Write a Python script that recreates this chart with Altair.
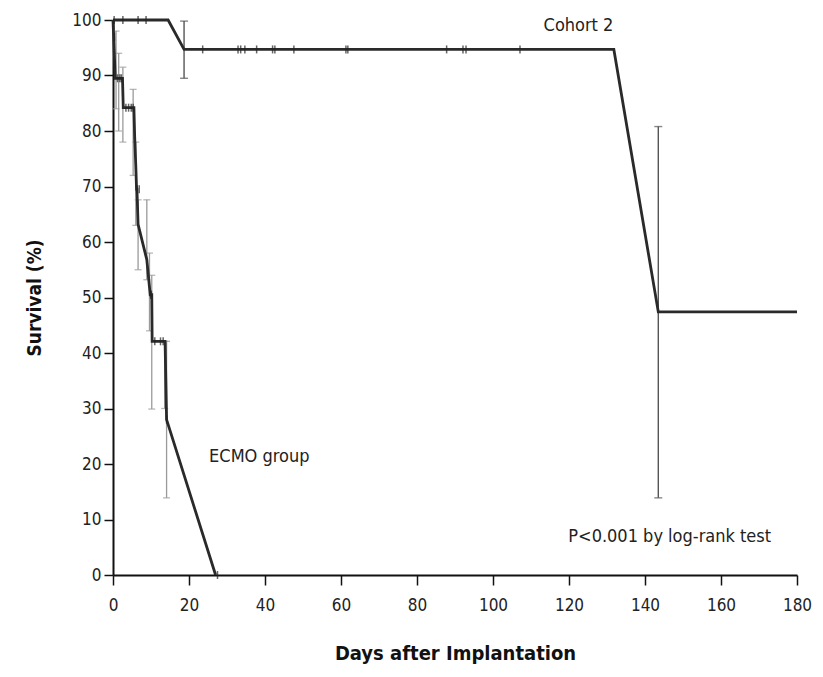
import altair as alt
import pandas as pd

# ---- data ----
cohort_days = [0, 14.5, 18.7, 131.8, 143.5, 180]
cohort_surv = [100, 100, 94.7, 94.7, 47.4, 47.4]

ecmo_days = [0, 0.3, 0.6, 2.5, 2.7, 5.5, 5.7, 6.0, 6.2, 6.3, 6.6, 8.9, 9.8, 10.2, 10.3, 13.7, 14.1, 27.0]
ecmo_surv = [100, 94.7, 89.5, 89.5, 84.2, 84.2, 79.0, 73.7, 69.5, 69.5, 63.2, 56.8, 50.5, 50.5, 42.1, 42.1, 28.0, 0]

cohort_cens_days = [0.3, 2.6, 6.6, 8.7, 23.6, 32.9, 33.6, 34.7, 37.8, 42.0, 42.6, 47.6, 61.3, 61.8, 87.8, 92.1, 92.9, 107.1]
cohort_cens_surv = [100, 100, 100, 100, 94.7, 94.7, 94.7, 94.7, 94.7, 94.7, 94.7, 94.7, 94.7, 94.7, 94.7, 94.7, 94.7, 94.7]

ecmo_cens_days = [0.4, 0.5, 1.2, 1.8, 2.2, 3.4, 4.1, 4.8, 5.3, 6.3, 6.9, 9.9, 10.1, 11.0, 12.5, 13.2, 14.1, 27.5]
ecmo_cens_surv = [97, 92, 89.5, 89.5, 89.5, 84.2, 84.2, 84.2, 84.2, 69.5, 69.5, 50.5, 50.5, 42.1, 42.1, 42.1, 28.0, 0]

cohort_err_days = [18.7, 143.5]
cohort_err_lo = [89.5, 13.9]
cohort_err_hi = [99.8, 80.8]

ecmo_err_days = [0.8, 1.5, 2.6, 5.3, 6.0, 6.6, 8.9, 9.6, 10.2, 13.6, 14.1]
ecmo_err_lo = [84, 80, 78.0, 72.0, 63.0, 55.0, 53.2, 44.0, 29.9, 30.0, 13.9]
ecmo_err_hi = [98, 94, 91.5, 87.5, 78.0, 67.6, 67.6, 58.0, 54.0, 42.1, 42.1]

labels = ["Cohort 2", "ECMO group", "P<0.001 by log-rank test"]
label_x = [122.5, 38.5, 146.5]
label_y = [99.0, 21.2, 6.8]

FONT = "DejaVu Sans Condensed, Liberation Sans, sans-serif"

lines = pd.DataFrame({
    "day": cohort_days + ecmo_days,
    "surv": cohort_surv + ecmo_surv,
    "group": ["Cohort 2"] * len(cohort_days) + ["ECMO"] * len(ecmo_days),
    "order": list(range(len(cohort_days))) + list(range(len(ecmo_days))),
})
cens = pd.DataFrame({
    "day": cohort_cens_days + ecmo_cens_days,
    "surv": cohort_cens_surv + ecmo_cens_surv,
})
err_c = pd.DataFrame({"day": cohort_err_days, "lo": cohort_err_lo, "hi": cohort_err_hi})
err_e = pd.DataFrame({"day": ecmo_err_days, "lo": ecmo_err_lo, "hi": ecmo_err_hi})
txt = pd.DataFrame({"label": labels, "x": label_x, "y": label_y})

xs = alt.Scale(domain=[0, 180], nice=False, zero=False)
ys = alt.Scale(domain=[0, 100], nice=False)

xaxis = alt.Axis(
    values=list(range(0, 181, 20)), title="Days after Implantation",
    labelFont=FONT, labelFontSize=17, labelColor="#222", labelPadding=12,
    tickSize=10, tickColor="#111", tickWidth=1.5, domainColor="#111", domainWidth=2,
    titleFont=FONT, titleFontSize=20, titleFontWeight="bold", titleColor="#111",
    titlePadding=30, grid=False, labelFlush=False,
)
yaxis = alt.Axis(
    values=list(range(0, 101, 10)), title="Survival (%)",
    labelFont=FONT, labelFontSize=17, labelColor="#222", labelPadding=3,
    tickSize=9, tickColor="#111", tickWidth=1.5, domainColor="#111", domainWidth=2,
    titleFont=FONT, titleFontSize=19, titleFontWeight="bold", titleColor="#111",
    titlePadding=27, grid=False, labelFlush=False,
)

base_x = alt.X("day:Q", scale=xs, axis=xaxis)
base_y = alt.Y("surv:Q", scale=ys, axis=yaxis)

e_rule = alt.Chart(err_e).mark_rule(color="#9a9a9a", strokeWidth=1.3).encode(
    x=alt.X("day:Q", scale=xs), y=alt.Y("lo:Q", scale=ys), y2="hi:Q")
e_cap_lo = alt.Chart(err_e).mark_tick(color="#9a9a9a", orient="horizontal", size=7, thickness=1.3).encode(
    x=alt.X("day:Q", scale=xs), y=alt.Y("lo:Q", scale=ys))
e_cap_hi = alt.Chart(err_e).mark_tick(color="#9a9a9a", orient="horizontal", size=7, thickness=1.3).encode(
    x=alt.X("day:Q", scale=xs), y=alt.Y("hi:Q", scale=ys))

c_rule = alt.Chart(err_c).mark_rule(color="#555", strokeWidth=1.4).encode(
    x=alt.X("day:Q", scale=xs), y=alt.Y("lo:Q", scale=ys), y2="hi:Q")
c_cap_lo = alt.Chart(err_c).mark_tick(color="#555", orient="horizontal", size=8, thickness=1.4).encode(
    x=alt.X("day:Q", scale=xs), y=alt.Y("lo:Q", scale=ys))
c_cap_hi = alt.Chart(err_c).mark_tick(color="#555", orient="horizontal", size=8, thickness=1.4).encode(
    x=alt.X("day:Q", scale=xs), y=alt.Y("hi:Q", scale=ys))

line = alt.Chart(lines).mark_line(color="#2a2a2a", strokeWidth=2.8).encode(
    x=base_x, y=base_y, detail="group:N", order="order:Q")

ticks = alt.Chart(cens).mark_tick(color="#222", orient="vertical", size=8, thickness=1.5).encode(
    x=alt.X("day:Q", scale=xs), y=alt.Y("surv:Q", scale=ys))

text = alt.Chart(txt).mark_text(font=FONT, fontSize=18, color="#222", align="center", baseline="middle").encode(
    x=alt.X("x:Q", scale=xs), y=alt.Y("y:Q", scale=ys), text="label:N")

chart = alt.layer(e_rule, e_cap_lo, e_cap_hi, c_rule, c_cap_lo, c_cap_hi, line, ticks, text).properties(
    width=684, height=555,
    background="white",
    autosize=alt.AutoSizeParams(type="none"),
    padding={"left": 105, "top": 12, "right": 16, "bottom": 94},
).configure_view(stroke=None, strokeWidth=0)

chart.save("out.html", embed_options={"renderer": "svg", "actions": False})
